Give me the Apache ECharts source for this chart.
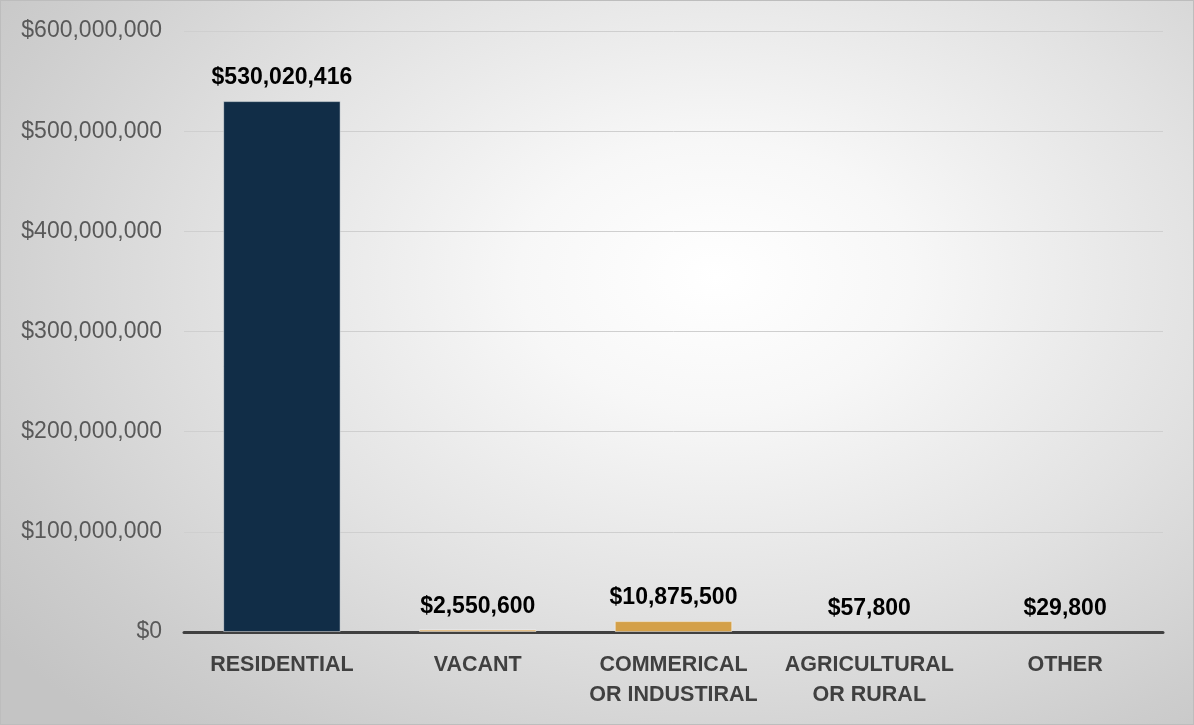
<!DOCTYPE html>
<html>
<head>
<meta charset="utf-8">
<script src="https://cdn.jsdelivr.net/npm/echarts@6/dist/echarts.min.js"></script>
<style>
  html, body { margin: 0; padding: 0; }
  #chart {
    width: 1194px; height: 725px; box-sizing: border-box;
    border: 1px solid #bdbdbd;
    background: radial-gradient(ellipse 75% 85% at 60% 38%, #ffffff 0%, #f7f7f7 22%, #e2e2e2 55%, #cdcdcd 85%, #c4c4c4 100%);
  }
</style>
</head>
<body>
<div id="chart"></div>
<script>
// Assessed value by property class
const categories = ['RESIDENTIAL', 'VACANT', 'COMMERICAL\nOR INDUSTIRAL', 'AGRICULTURAL\nOR RURAL', 'OTHER'];
const values = [530020416, 2550600, 10875500, 57800, 29800];
const barColors = ['#112d47', '#ddb06c', '#d4a048', '#8a9bab', '#7f7f7f'];
const barBorders = [1, 1, 1, 0, 0];
const yTicks = { min: 0, max: 600000000, interval: 100000000 };

const money = v => '$' + Math.round(v).toLocaleString('en-US');

const chart = echarts.init(document.getElementById('chart'), null, { renderer: 'canvas' });
chart.setOption({
  backgroundColor: 'transparent',
  animation: false,
  grid: { left: 183, right: 30, top: 30, bottom: 92, containLabel: false },
  xAxis: {
    type: 'category',
    data: categories,
    axisTick: { show: false },
    axisLine: { lineStyle: { color: '#404040', width: 3 } },
    axisLabel: {
      margin: 18,
      color: '#404040',
      fontFamily: 'Liberation Sans',
      fontWeight: 'bold',
      fontSize: 21.5,
      lineHeight: 30,
      interval: 0
    }
  },
  yAxis: {
    type: 'value',
    min: yTicks.min,
    max: yTicks.max,
    interval: yTicks.interval,
    axisLine: { show: false },
    axisTick: { show: false },
    splitLine: { lineStyle: { color: '#cfcfcf', width: 1 } },
    axisLabel: {
      margin: 22,
      color: '#595959',
      fontFamily: 'Liberation Sans',
      fontSize: 23,
      formatter: money
    }
  },
  series: [{
    type: 'bar',
    barWidth: '60%',
    data: values.map((v, i) => ({
      value: v,
      itemStyle: { color: barColors[i], borderColor: 'rgba(255,255,255,0.45)', borderWidth: barBorders[i] }
    })),
    label: {
      show: true,
      position: 'top',
      distance: 11,
      color: '#000000',
      fontFamily: 'Liberation Sans',
      fontWeight: 'bold',
      fontSize: 23,
      lineHeight: 24,
      formatter: p => money(p.value)
    }
  }]
});
</script>
</body>
</html>
